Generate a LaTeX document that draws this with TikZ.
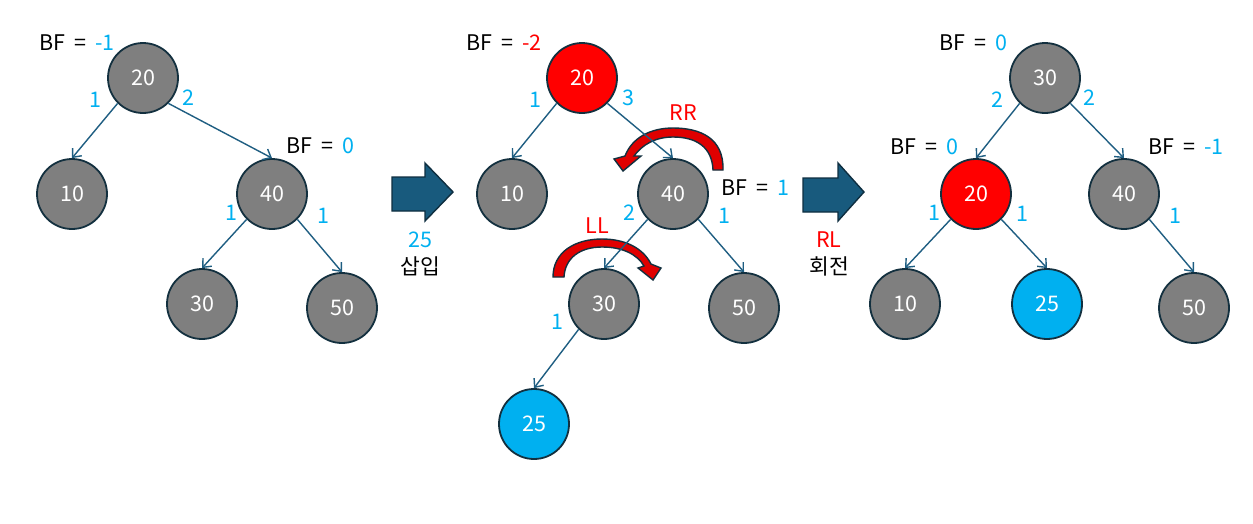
\documentclass[tikz,border=0pt]{standalone}
\usepackage{fontspec}
\usetikzlibrary{arrows.meta}
\setmainfont{Noto Sans CJK KR}
\definecolor{nodegray}{HTML}{7F7F7F}
\definecolor{nodeline}{HTML}{13303F}
\definecolor{edgecol}{HTML}{1F5E82}
\definecolor{lblc}{HTML}{00B0F0}
\definecolor{hotred}{HTML}{FF0000}
\definecolor{bigarrow}{HTML}{185A7D}
\definecolor{bigline}{HTML}{0E2E40}
\definecolor{curvred}{HTML}{E00000}
\newcommand\bflab[1]{BF\hspace{0.42em}=\hspace{0.42em}#1}
\begin{document}
\begin{tikzpicture}[x=1pt,y=-1pt,
  every node/.style={font=\fontsize{21.5}{25}\selectfont, inner sep=1pt},
  tnode/.style={circle, minimum size=70pt, inner sep=0pt, draw=nodeline, line width=1.8pt, fill=nodegray, text=white},
  rednode/.style={tnode, fill=hotred},
  cyannode/.style={tnode, fill=lblc},
  edge/.style={draw=edgecol, line width=1.4pt, -{Straight Barb[length=7pt,width=12pt]}},
  num/.style={text=lblc},
  redtxt/.style={text=hotred},
  blockarrow/.style={fill=bigarrow, draw=bigline, line width=1.4pt, line join=miter},
  curvarrow/.style={fill=curvred, draw=nodeline, line width=1.4pt, line join=miter}
]
\useasboundingbox (0,0) rectangle (1253,523);
\fill[white] (0,0) rectangle (1253,523);

% curved rotation arrows
\path[curvarrow] (723,170) .. controls (724,138) and (700,128) .. (673,128)
  .. controls (650,128) and (632,138) .. (625,156)
  -- (614,159) -- (623,171) -- (641,156) -- (634,156)
  .. controls (642,145) and (655,137) .. (673,137)
  .. controls (695,137) and (712,146) .. (713,170) -- cycle;
\path[curvarrow] (553,277) .. controls (553,252) and (575,239) .. (602,239)
  .. controls (625,239) and (643,248) .. (651,264)
  -- (661,268) -- (653,280) -- (638,268) -- (644,266)
  .. controls (637,254) and (622,247) .. (602,247)
  .. controls (580,247) and (565,258) .. (564,277) -- cycle;

% big arrows
\path[blockarrow] (392,177) -- (425,177) -- (425,163) -- (453,192) -- (425,221) -- (425,211) -- (392,211) -- cycle;
\path[blockarrow] (803,178) -- (838,178) -- (838,163) -- (864,192) -- (838,221) -- (838,212) -- (803,212) -- cycle;

% tree 1
\node[tnode] (a20) at (143,78) {20};
\node[tnode] (a10) at (72,194) {10};
\node[tnode] (a40) at (272,194) {40};
\node[tnode] (a30) at (202,304) {30};
\node[tnode] (a50) at (342,308) {50};
% tree 2
\node[rednode] (b20) at (582,78) {20};
\node[tnode] (b10) at (512,194) {10};
\node[tnode] (b40) at (673,194) {40};
\node[tnode] (b30) at (604,304) {30};
\node[tnode] (b50) at (744,308) {50};
\node[cyannode] (b25) at (534,424) {25};
% tree 3
\node[tnode] (c30) at (1045,78) {30};
\node[rednode] (c20) at (976,194) {20};
\node[tnode] (c40) at (1124,194) {40};
\node[tnode] (c10) at (905,304) {10};
\node[cyannode] (c25) at (1047,304) {25};
\node[tnode] (c50) at (1194,308) {50};

% edges
\draw[edge] (a20.south west) -- (a10.north);
\draw[edge] (a20.south east) -- (a40.north);
\draw[edge] (a40.south west) -- (a30.north);
\draw[edge] (a40.south east) -- (a50.north);
\draw[edge] (b20.south west) -- (b10.north);
\draw[edge] (b20.south east) -- (b40.north);
\draw[edge] (b40.south west) -- (b30.north);
\draw[edge] (b40.south east) -- (b50.north);
\draw[edge] (b30.south west) -- (b25.north);
\draw[edge] (c30.south west) -- (c20.north);
\draw[edge] (c30.south east) -- (c40.north);
\draw[edge] (c20.south west) -- (c10.north);
\draw[edge] (c20.south east) -- (c25.north);
\draw[edge] (c40.south east) -- (c50.north);

% BF labels
\node (bfa20) at (77,43) {\bflab{\textcolor{lblc}{-1}}};
\node (bfa40) at (320,146) {\bflab{\textcolor{lblc}{0}}};
\node (bfb20) at (504,43) {\bflab{\textcolor{hotred}{-2}}};
\node (bfb40) at (755,188) {\bflab{\textcolor{lblc}{1}}};
\node (bfc30) at (973,43) {\bflab{\textcolor{lblc}{0}}};
\node (bfc20) at (924,147) {\bflab{\textcolor{lblc}{0}}};
\node (bfc40) at (1186,147) {\bflab{\textcolor{lblc}{-1}}};

% edge weights
\node[num] (wa1) at (95,100) {1};
\node[num] (wa2) at (188,98) {2};
\node[num] (wa3) at (231,213) {1};
\node[num] (wa4) at (323,216) {1};
\node[num] (wb1) at (535,100) {1};
\node[num] (wb2) at (628,98) {3};
\node[num] (wb3) at (629,213) {2};
\node[num] (wb4) at (724,216) {1};
\node[num] (wb5) at (557,322) {1};
\node[num] (wc1) at (997,100) {2};
\node[num] (wc2) at (1089,98) {2};
\node[num] (wc3) at (934,213) {1};
\node[num] (wc4) at (1022,214) {1};
\node[num] (wc5) at (1175,216) {1};

% rotation labels
\node[redtxt] (rr) at (683,113) {RR};
\node[redtxt] (ll) at (597,226) {LL};

% step captions
\node[num] (ins1) at (420,240) {25};
\node (ins2) at (420,266) {삽입};
\node[redtxt] (rot1) at (829,240) {RL};
\node (rot2) at (829,266) {회전};
\end{tikzpicture}
\end{document}
